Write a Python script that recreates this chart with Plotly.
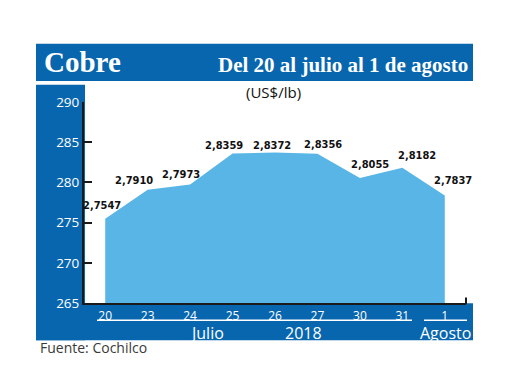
import plotly.graph_objects as go

# ---- data ----
days = ["20", "23", "24", "25", "26", "27", "30", "31", "1"]
prices = [2.7547, 2.7910, 2.7973, 2.8359, 2.8372, 2.8356, 2.8055, 2.8182, 2.7837]  # US$/lb
y_ticks = [265, 270, 275, 280, 285, 290]
group_labels = ["Julio", "2018", "Agosto"]
title_text = "Cobre"
subtitle_text = "Del 20 al julio al 1 de agosto"
unit_text = "(US$/lb)"
source_text = "Fuente: Cochilco"

# ---- styling / layout helpers ----
W, H = 520, 390
OFF = 8  # page body margin
DARK = "#0866ae"
LIGHT = "#58b5e5"
SANS = "Open Sans, Lato, sans-serif"
SERIF = "Liberation Serif, DejaVu Serif, serif"
NARROW = "DejaVu Sans Condensed, Liberation Sans Narrow, Roboto Condensed, Roboto, sans-serif"


def px(x):
    return (x - OFF) / W


def py(y):
    return 1 - (y - OFF) / H


cents = [p * 100 for p in prices]
labels = [f"{p:.4f}".replace(".", ",") for p in prices]
# label offsets (dx right, dy up) in pixels
label_shift = [(-3, 13), (-14, 9), (-9, 10), (-9, 8), (-3, 7), (6, 9), (10, 13), (15, 12), (8, 15)]
group_pos = [(207, 339.5), (303, 339.5), (445, 339.5)]

fig = go.Figure()
fig.add_trace(go.Scatter(
    x=list(range(len(days))), y=cents, mode="lines", fill="tozeroy",
    fillcolor=LIGHT, line=dict(width=0, color=LIGHT),
    hoverinfo="skip", showlegend=False,
))

annotations = []
for i, (c, t, (dx, dy)) in enumerate(zip(cents, labels, label_shift)):
    annotations.append(dict(
        x=i, y=c, xref="x", yref="y", text=f"<b>{t}</b>", showarrow=False,
        xshift=dx, yshift=dy, xanchor="center", yanchor="middle",
        font=dict(family=NARROW, size=11, color="#111"),
    ))

annotations += [
    dict(x=px(42), y=py(55), xref="paper", yref="paper", text=f"<b>{title_text}</b>",
         showarrow=False, xanchor="left", yanchor="middle",
         font=dict(family=SERIF, size=29, color="white")),
    dict(x=px(470), y=py(58), xref="paper", yref="paper", text=f"<b>{subtitle_text}</b>",
         showarrow=False, xanchor="right", yanchor="middle",
         font=dict(family=SERIF, size=21, color="white")),
    dict(x=px(273), y=py(87), xref="paper", yref="paper", text=unit_text,
         showarrow=False, xanchor="center", yanchor="middle",
         font=dict(family=SANS, size=15, color="#111")),
    dict(x=px(38), y=py(354), xref="paper", yref="paper", text=source_text,
         showarrow=False, xanchor="left", yanchor="middle",
         font=dict(family=SANS, size=14, color="#3a3a3a")),
]
for g, (gx, gy) in zip(group_labels, group_pos):
    annotations.append(dict(
        x=px(gx), y=py(gy), xref="paper", yref="paper", text=g, showarrow=False,
        xanchor="center", yanchor="middle", borderpad=0,
        font=dict(family=SANS, size=16, color="white"),
    ))

shapes = [
    dict(type="rect", xref="paper", yref="paper", x0=px(36), x1=px(473), y0=py(75), y1=py(36),
         fillcolor=DARK, line=dict(width=0), layer="below"),
    dict(type="rect", xref="paper", yref="paper", x0=px(36), x1=px(85), y0=py(347), y1=py(79),
         fillcolor=DARK, line=dict(width=0), layer="below"),
    dict(type="rect", xref="paper", yref="paper", x0=px(36), x1=px(473), y0=py(347), y1=py(308),
         fillcolor=DARK, line=dict(width=0), layer="below"),
    dict(type="line", xref="paper", yref="paper", x0=px(97), x1=px(412), y0=py(326), y1=py(326),
         line=dict(color="white", width=1.5)),
    dict(type="line", xref="paper", yref="paper", x0=px(424), x1=px(467), y0=py(326), y1=py(326),
         line=dict(color="white", width=1.5)),
    dict(type="line", xref="paper", yref="paper", x0=px(466), x1=px(466), y0=py(309), y1=py(302),
         line=dict(color="#1a1a1a", width=2)),
]

fig.update_layout(
    width=W, height=H, autosize=False,
    margin=dict(l=0, r=0, t=0, b=0),
    paper_bgcolor="white", plot_bgcolor="rgba(0,0,0,0)",
    showlegend=False,
    annotations=annotations, shapes=shapes,
    xaxis=dict(
        range=[-0.5, 8.5], domain=[px(84), px(466)],
        tickmode="array", tickvals=list(range(len(days))), ticktext=days,
        showline=True, linecolor="#1a1a1a", linewidth=2,
        showgrid=False, zeroline=False, ticks="",
        tickfont=dict(family=SANS, size=12, color="white"),
        fixedrange=True,
    ),
    yaxis=dict(
        range=[265, 290], domain=[py(308), py(97)],
        tickvals=y_ticks, ticktext=[str(v) for v in y_ticks],
        ticks="inside", ticklen=8, tickwidth=2, tickcolor="#1a1a1a",
        showline=True, linecolor="#1a1a1a", linewidth=2,
        showgrid=False, zeroline=False,
        tickfont=dict(family=SANS, size=13.5, color="white"),
        fixedrange=True,
    ),
)

fig.write_html("out.html")
